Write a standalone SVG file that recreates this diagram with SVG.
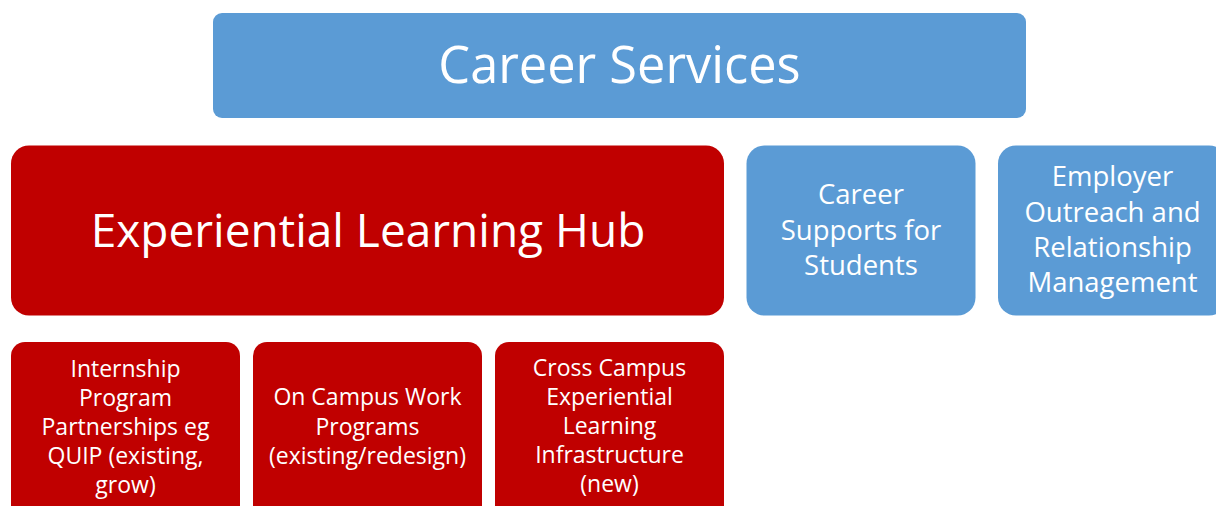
<svg xmlns="http://www.w3.org/2000/svg" width="1216" height="506" viewBox="0 0 1216 506">
<style>
.blue{fill:#5B9BD5}
.red{fill:#C00000}
text{font-family:"Open Sans","Noto Sans","Liberation Sans",sans-serif;fill:#FFFFFF;text-anchor:middle}
.t1{font-size:50.5px}
.t2{font-size:46px}
.t3{font-size:27.5px}
.t4{font-size:23px}
</style>
<rect width="1216" height="506" fill="#FFFFFF"/>
<g id="connectors"></g>
<g id="career-services">
<rect class="blue" x="213" y="13" width="813" height="105" rx="9"/>
<text class="t1" x="619.5" y="83">Career Services</text>
</g>
<g id="experiential-learning-hub">
<rect class="red" x="11" y="145.5" width="713" height="170" rx="18"/>
<text class="t2" x="368" y="247">Experiential Learning Hub</text>
</g>
<g id="career-supports">
<rect class="blue" x="746.5" y="145.5" width="229" height="170" rx="18"/>
<text class="t3" x="861" y="204">Career</text>
<text class="t3" x="861" y="239.5">Supports for</text>
<text class="t3" x="861" y="275">Students</text>
</g>
<g id="employer-outreach">
<rect class="blue" x="998" y="145.5" width="229" height="170" rx="18"/>
<text class="t3" x="1112.5" y="186">Employer</text>
<text class="t3" x="1112.5" y="221.5">Outreach and</text>
<text class="t3" x="1112.5" y="257">Relationship</text>
<text class="t3" x="1112.5" y="292">Management</text>
</g>
<g id="internship-program">
<rect class="red" x="11" y="342" width="229" height="180" rx="14"/>
<text class="t4" x="125.5" y="376.5">Internship</text>
<text class="t4" x="125.5" y="405.5">Program</text>
<text class="t4" x="125.5" y="434.5">Partnerships eg</text>
<text class="t4" x="125.5" y="463.5">QUIP (existing,</text>
<text class="t4" x="125.5" y="492.5">grow)</text>
</g>
<g id="on-campus-work">
<rect class="red" x="253" y="342" width="229" height="180" rx="14"/>
<text class="t4" x="367.5" y="405">On Campus Work</text>
<text class="t4" x="367.5" y="434.5">Programs</text>
<text class="t4" x="367.5" y="463.5">(existing/redesign)</text>
</g>
<g id="cross-campus">
<rect class="red" x="495" y="342" width="229" height="180" rx="14"/>
<text class="t4" x="609.5" y="376">Cross Campus</text>
<text class="t4" x="609.5" y="405">Experiential</text>
<text class="t4" x="609.5" y="434">Learning</text>
<text class="t4" x="609.5" y="463">Infrastructure</text>
<text class="t4" x="609.5" y="492">(new)</text>
</g>
</svg>
